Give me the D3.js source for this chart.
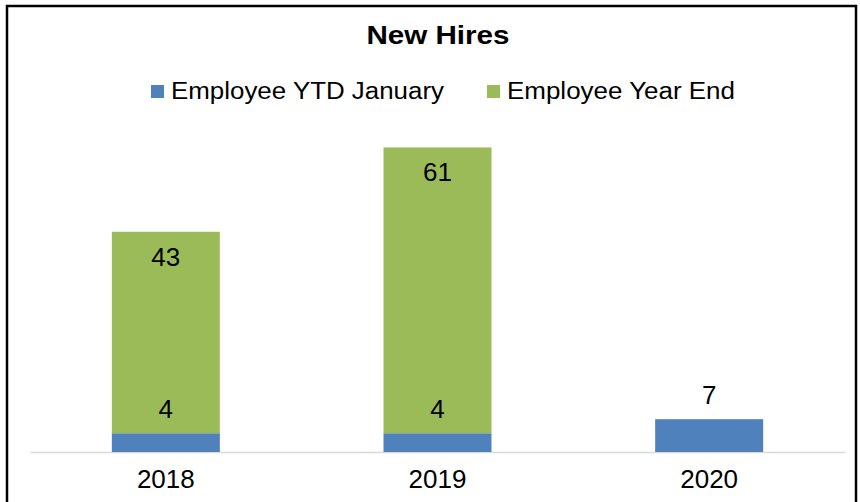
<!DOCTYPE html>
<html><head><meta charset="utf-8">
<script src="https://d3js.org/d3.v7.min.js"></script>
<style>body{margin:0;background:#fff}svg{display:block}text{font-family:"Liberation Sans",Arial,sans-serif;fill:#000}</style>
</head><body>
<script>
const categories = ["2018", "2019", "2020"];
const seriesNames = ["Employee YTD January", "Employee Year End"];
const ytdJanuary = [4, 4, 7];
const yearEnd = [43, 61, null];
const colors = ["#4F81BD", "#9BBB59"];

const W = 860, H = 502;
const svg = d3.select("body").append("svg").attr("width", W).attr("height", H);

// outer frame
svg.append("rect").attr("x", 7).attr("y", 6).attr("width", 849).attr("height", 520)
  .attr("fill", "none").attr("stroke", "#000").attr("stroke-width", 2.5);

// title
svg.append("text").attr("x", 438).attr("y", 44).attr("text-anchor", "middle")
  .attr("font-weight", "bold").attr("font-size", 26)
  .attr("textLength", 143).attr("lengthAdjust", "spacingAndGlyphs").text("New Hires");

// legend
const legendItems = [
  {name: seriesNames[0], color: colors[0], x: 151, w: 273},
  {name: seriesNames[1], color: colors[1], x: 487, w: 228}
];
legendItems.forEach(d => {
  svg.append("rect").attr("x", d.x).attr("y", 85).attr("width", 13).attr("height", 13).attr("fill", d.color);
  svg.append("text").attr("x", d.x + 20).attr("y", 98.5).attr("font-size", 23)
    .attr("textLength", d.w).attr("lengthAdjust", "spacingAndGlyphs").text(d.name);
});

const x = d3.scaleBand().domain(categories).range([30, 845]).paddingInner(0.6).paddingOuter(0.3);
const y = d3.scaleLinear().domain([0, 70]).range([452, 124]);

const data = categories.map((c, i) => ({cat: c, a: ytdJanuary[i], b: yearEnd[i]}));

// axis
const xAxis = svg.append("g").attr("transform", "translate(0,452)").call(d3.axisBottom(x).tickSize(0).tickPadding(0));
xAxis.select(".domain").attr("stroke", "#d9d9d9").attr("stroke-width", 1.5);
xAxis.selectAll("text").attr("font-size", 26).attr("dy", null).attr("y", 36)
  .style("font-family", '"Liberation Sans",Arial,sans-serif').attr("fill", "#000");

const bw = 108;
const cx = d => x(d.cat) + x.bandwidth() / 2;

// blue segments
svg.selectAll(".barA").data(data).enter().append("rect")
  .attr("x", d => cx(d) - bw / 2).attr("width", bw)
  .attr("y", d => y(d.a)).attr("height", d => y(0) - y(d.a)).attr("fill", colors[0]);

// green segments
svg.selectAll(".barB").data(data.filter(d => d.b != null)).enter().append("rect")
  .attr("x", d => cx(d) - bw / 2).attr("width", bw)
  .attr("y", d => y(d.a + d.b)).attr("height", d => y(d.a) - y(d.a + d.b)).attr("fill", colors[1]);

// labels
svg.selectAll(".labA").data(data).enter().append("text")
  .attr("x", cx).attr("y", d => y(d.a) - 15).attr("text-anchor", "middle").attr("font-size", 26)
  .text(d => d.a);
svg.selectAll(".labB").data(data.filter(d => d.b != null)).enter().append("text")
  .attr("x", cx).attr("y", d => y(d.a + d.b) + 34).attr("text-anchor", "middle").attr("font-size", 26)
  .text(d => d.b);
</script>
</body></html>
